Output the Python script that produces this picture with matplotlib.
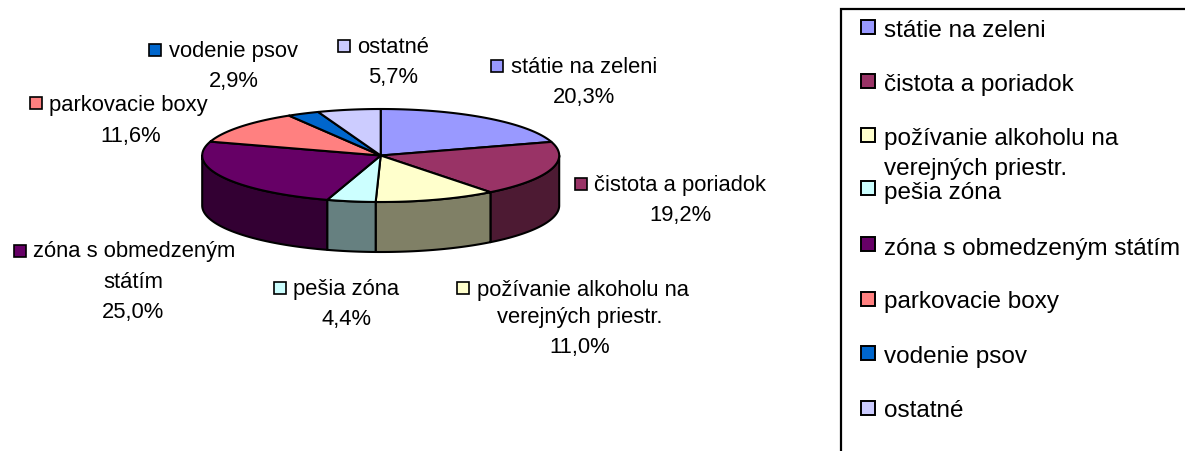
import numpy as np
import matplotlib
matplotlib.use("Agg")
import matplotlib.pyplot as plt
from matplotlib.patches import Polygon, Rectangle

categories = ["státie na zeleni", "čistota a poriadok", "požívanie alkoholu na\nverejných priestr.",
              "pešia zóna", "zóna s obmedzeným státím", "parkovacie boxy", "vodenie psov", "ostatné"]
pie_labels = ["státie na zeleni", "čistota a poriadok", "požívanie alkoholu na\nverejných priestr.",
              "pešia zóna", "zóna s obmedzeným\nstátím", "parkovacie boxy", "vodenie psov", "ostatné"]
values = [20.3, 19.2, 11.0, 4.4, 25.0, 11.6, 2.9, 5.7]
colors = ["#9999FF", "#993366", "#FFFFCC", "#CCFFFF", "#660066", "#FF8080", "#0066CC", "#CCCCFF"]
side_colors = ["#4D4D80", "#4D1A33", "#808066", "#668080", "#330033", "#804040", "#003366", "#666680"]

plt.rcParams['font.family'] = ['Liberation Sans', 'DejaVu Sans']
fig = plt.figure(figsize=(11.85, 4.52), dpi=100)
ax = fig.add_axes([0, 0, 1, 1])
ax.set_xlim(0, 1185)
ax.set_ylim(452, 0)
ax.axis('off')

CX, CY, RX, RY, DEPTH = 380.7, 156.5, 178.5, 46.5, 50
LW = 1.5
fr = np.array(values) / sum(values)
edges = np.concatenate([[0], np.cumsum(fr)]) * 2 * np.pi


def rim(a, b, n=80):
    t = np.linspace(a, b, n)
    return CX + RX * np.sin(t), CY - RY * np.cos(t)


# side walls (front half only)
for i in range(len(values)):
    a = max(edges[i], np.pi / 2)
    b = min(edges[i + 1], 3 * np.pi / 2)
    if b <= a:
        continue
    x, y = rim(a, b)
    px = np.concatenate([x, x[::-1]])
    py = np.concatenate([y, y[::-1] + DEPTH])
    ax.add_patch(Polygon(np.c_[px, py], closed=True, fc=side_colors[i], ec='black', lw=LW, joinstyle='round'))

# top slices
for i in range(len(values)):
    x, y = rim(edges[i], edges[i + 1])
    pts = np.vstack([[CX, CY], np.c_[x, y]])
    ax.add_patch(Polygon(pts, closed=True, fc=colors[i], ec='black', lw=LW, joinstyle='round'))

# data labels: marker centre (x, y), text left x, block centre x, line baselines
LAB_FS = 15.8
label_layout = [
    (497, 66.5, 511, 583.7, [72.7, 103]),
    (581, 184.5, 594, 680, [190.7, 220.7]),
    (463, 288.5, 477, 580, [295.7, 323, 352.7]),
    (279.5, 289, 293, 346, [295, 325]),
    (19.5, 251.5, 33, 133, [257, 288, 318]),
    (35.5, 104, 49, 130.5, [111, 141.7]),
    (155, 51, 169, 233.5, [56.7, 87]),
    (343.5, 47, 357, 393, [53, 83]),
]
for i, (mx, my, tx, cx, ys) in enumerate(label_layout):
    ax.add_patch(Rectangle((mx - 6, my - 6), 12, 12, fc=colors[i], ec='black', lw=1.2))
    lines = pie_labels[i].split("\n")
    ax.text(tx, ys[0], lines[0], fontsize=LAB_FS, va='baseline', ha='left', color='black')
    for ln, yy in zip(lines[1:], ys[1:-1]):
        ax.text(cx, yy, ln, fontsize=LAB_FS, va='baseline', ha='center', color='black')
    ax.text(cx, ys[-1], f"{values[i]:.1f}%".replace(".", ","), fontsize=LAB_FS, va='baseline', ha='center', color='black')

# legend box
ax.plot([1185, 841, 841], [10, 10, 452], color='black', lw=1.6, solid_joinstyle='miter', clip_on=True)
LEG_FS = 17.5
legend_marker_y = [28, 82, 136, 189, 245, 300, 354, 409]
legend_text_y = [[36.7], [90.7], [145, 175], [199.3], [255], [308], [363], [416.7]]
for i, cat in enumerate(categories):
    ax.add_patch(Rectangle((860.5, legend_marker_y[i] - 7), 14, 14, fc=colors[i], ec='black', lw=1.4))
    for ln, yy in zip(cat.split("\n"), legend_text_y[i]):
        ax.text(884, yy, ln, fontsize=LEG_FS, va='baseline', ha='left', color='black')

fig.savefig("out.png", dpi=100, facecolor='white')
